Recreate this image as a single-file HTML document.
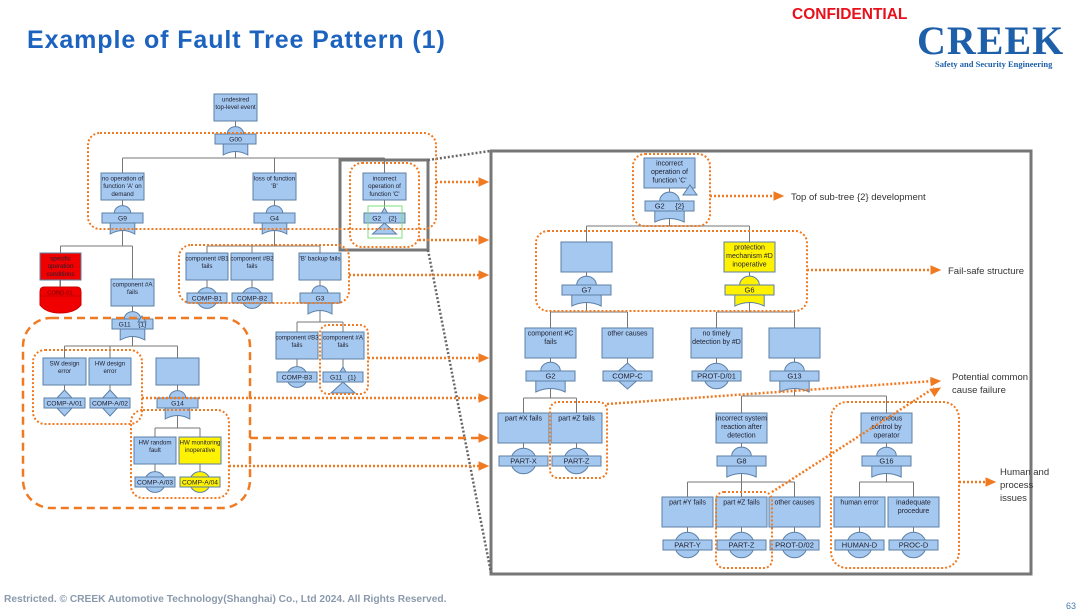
<!DOCTYPE html>
<html><head><meta charset="utf-8"><style>
body{margin:0;width:1080px;height:613px;overflow:hidden;background:#fff;font-family:"Liberation Sans",sans-serif;position:relative}
.t{position:absolute;white-space:nowrap}
</style></head><body>
<div class="t" style="left:27px;top:26px;font-size:25px;font-weight:bold;color:#1b63bf;letter-spacing:0.9px">Example of Fault Tree Pattern (1)</div>
<div class="t" style="left:792px;top:6px;font-size:15.5px;font-weight:bold;color:#e8101a">CONFIDENTIAL</div>
<div class="t" style="left:917px;top:17px;font-size:40px;font-weight:bold;color:#1d5fa8;font-family:'Liberation Serif',serif;letter-spacing:1px">CREEK</div>
<div class="t" style="left:935px;top:59px;font-size:8.5px;font-weight:bold;color:#1d5fa8;font-family:'Liberation Serif',serif">Safety and Security Engineering</div>
<div class="t" style="left:4px;top:594px;font-size:10.2px;font-weight:bold;color:#8a9aac">Restricted. © CREEK Automotive Technology(Shanghai) Co., Ltd 2024. All Rights Reserved.</div>
<div class="t" style="left:1066px;top:601px;font-size:9px;color:#4a7ab0">63</div>
<svg id="s" width="1080" height="613" style="position:absolute;left:0;top:0" xmlns="http://www.w3.org/2000/svg"></svg>
<script>
var o='';
var B='#a4c8ef',S='#5c7fa6',Y='#fff200',R='#f00000',OR='#f07a22';
function rect(x,y,w,h,f,st,sw){o+='<rect x="'+x+'" y="'+y+'" width="'+w+'" height="'+h+'" fill="'+f+'" stroke="'+(st||S)+'" stroke-width="'+(sw||1)+'"/>';}
function txt(x,y,s,fs,c,anc){o+='<text x="'+x+'" y="'+y+'" font-size="'+fs+'" fill="'+(c||'#223')+'" text-anchor="'+(anc||'middle')+'" font-family="Liberation Sans,sans-serif">'+s+'</text>';}
function line(x1,y1,x2,y2,c,w,d){o+='<line x1="'+x1+'" y1="'+y1+'" x2="'+x2+'" y2="'+y2+'" stroke="'+(c||'#777')+'" stroke-width="'+(w||1)+'"'+(d?' stroke-dasharray="'+d+'"':'')+'/>';}
function path(d,f,st){o+='<path d="'+d+'" fill="'+f+'" stroke="'+(st||S)+'" stroke-width="1"/>';}
var G={};
function node(id,x,y,w,h,lines,type,label,fill,fs){
 fill=fill||B;fs=fs||(w>48?7:6.2);
 var cx=x+w/2,by=y+h+13,bw=w-2,bx=x+1,bh=10;
 line(cx,y+h,cx,by,'#777');
 if(type=='g'){var r=bw*0.2;path('M'+(cx-r)+' '+by+' A'+r+' '+(r*0.9)+' 0 0 1 '+(cx+r)+' '+by+'Z',fill);
  var hw=bw*0.3;path('M'+(cx-hw)+' '+(by+bh)+' L'+(cx-hw)+' '+(by+bh+11)+' Q'+cx+' '+(by+bh+4)+' '+(cx+hw)+' '+(by+bh+11)+' L'+(cx+hw)+' '+(by+bh)+'Z',fill);
  G[id]=[cx,by+bh+8];}
 if(type=='b'){o+='<circle cx="'+cx+'" cy="'+(by+bh/2)+'" r="'+(bw*0.26)+'" fill="'+fill+'" stroke="'+S+'"/>';}
 if(type=='d'){var r2=bw*0.3;path('M'+cx+' '+(by-8)+' L'+(cx+r2)+' '+(by+5)+' L'+cx+' '+(by+bh+8)+' L'+(cx-r2)+' '+(by+5)+'Z',fill);}
 if(type=='t'){path('M'+cx+' '+(by-5)+' L'+(cx+3)+' '+by+' L'+(cx-3)+' '+by+'Z',fill);path('M'+cx+' '+(by+bh)+' L'+(cx+12)+' '+(by+bh+11)+' L'+(cx-12)+' '+(by+bh+11)+'Z',fill);}
 rect(x,y,w,h,fill);
 for(var i=0;i<lines.length;i++)txt(cx,y+7.5+i*(fs+1.5),lines[i],fs);
 if(type)rect(bx,by,bw,bh,fill);
 if(label)txt(cx,by+7.5,label,fs+0.5);
 G[id+'_top']=[cx,y];
}
function conn(p,kids,bus){var g=G[p];line(g[0],g[1],g[0],bus,'#777');var xs=kids.map(function(k){return G[k+'_top'][0]});xs.push(g[0]);
 line(Math.min.apply(0,xs),bus,Math.max.apply(0,xs),bus,'#777');kids.forEach(function(k){var t=G[k+'_top'];line(t[0],bus,t[0],t[1],'#777');});}
node('top',214,94,43,27,['undesired','top-level event'],'g','G00');
node('g9',101,173,43,27,['no operation of',"function 'A' on",'demand'],'g','G9');
node('g4',253,173,43,27,['loss of function',"'B'"],'g','G4');
node('c',363,173,43,27,['incorrect','operation of',"function 'C'"],'t','G2&#160;&#160;&#160;&#160;{2}');
o+='<rect x="368" y="206" width="34" height="32" fill="none" stroke="#7de07d" stroke-width="1"/>';
node('red',40,253,41,27,['specific','operation','conditions'],null,null,R);
path('M44 287 L77 287 Q81 287 81 292 L81 305 Q75 313 60 313 Q46 313 40 305 L40 292 Q40 287 44 287Z',R,'#c00');
line(40,296,81,296,'#c00');txt(60,294.5,'COND-01',5.8,'#600');line(60,280,60,287,'#777');
node('ga',111,279,43,27,['component #A','fails'],'g','G11&#160;&#160;&#160;&#160;{1}');
path('M142 316 L146 322 L138 322Z',B);
node('b1',186,253,42,27,['component #B1','fails'],'b','COMP-B1');
node('b2',231,253,42,27,['component #B2','fails'],'b','COMP-B2');
node('g3',299,253,42,27,["'B' backup fails"],'g','G3');
node('b3',276,332,42,27,['component #B3','fails'],'b','COMP-B3');
node('a2',322,332,42,27,['component #A','fails'],'t','G11&#160;&#160;&#160;{1}');
node('sw',43,358,43,27,['SW design','error'],'d','COMP-A/01');
node('hw',89,358,42,27,['HW design','error'],'d','COMP-A/02');
node('g14',156,358,43,27,[],'g','G14');
node('hr',134,437,42,27,['HW random','fault'],'b','COMP-A/03');
node('hm',179,437,42,27,['HW monitoring','inoperative'],'b','COMP-A/04',Y);
conn('top',['g9','g4','c'],158);conn('g9',['red','ga'],246);conn('g4',['b1','b2','g3'],246);
conn('g3',['b3','a2'],322);conn('ga',['sw','hw','g14'],346);conn('g14',['hr','hm'],428);
node('rc',644,158,51,30,['incorrect','operation of',"function 'C'"],'g','G2&#160;&#160;&#160;&#160;&#160;{2}');
path('M690 185 L697 195 L683 195Z',B);
node('g7',561,242,51,30,[],'g','G7');
node('g6',724,242,51,30,['protection','mechanism #D','inoperative'],'g','G6',Y);
node('rg2',525,328,51,30,['component #C','fails'],'g','G2');
node('oc',602,328,51,30,['other causes'],'d','COMP-C');
node('nt',691,328,51,30,['no timely','detection by #D'],'b','PROT-D/01');
node('g13',769,328,51,30,[],'g','G13');
node('px',498,413,51,30,['part #X fails'],'b','PART-X');
node('pz',551,413,51,30,['part #Z fails'],'b','PART-Z');
node('g8',716,413,51,30,['incorrect system','reaction after','detection'],'g','G8');
node('g16',861,413,51,30,['erroneous','control by','operator'],'g','G16');
node('py',662,497,51,30,['part #Y fails'],'b','PART-Y');
node('pz2',716,497,51,30,['part #Z fails'],'b','PART-Z');
node('ot2',769,497,51,30,['other causes'],'b','PROT-D/02');
node('he',834,497,51,30,['human error'],'b','HUMAN-D');
node('ip',888,497,51,30,['inadequate','procedure'],'b','PROC-D');
conn('rc',['g7','g6'],226);conn('g7',['rg2','oc'],312);conn('g6',['nt','g13'],312);
conn('rg2',['px','pz'],398);conn('g13',['g8','g16'],396);conn('g8',['py','pz2','ot2'],482);conn('g16',['he','ip'],482);
o+='<rect x="491" y="151" width="540" height="423" fill="none" stroke="#777" stroke-width="3"/>';
o+='<rect x="340" y="160" width="88" height="90" fill="none" stroke="#777" stroke-width="3"/>';
line(428,160,490,151,'#666',2.5,'2 2');line(428,250,491,573,'#666',2.5,'2 2');
function orr(x,y,w,h,dash,rx){o+='<rect x="'+x+'" y="'+y+'" width="'+w+'" height="'+h+'" rx="'+(rx||12)+'" fill="none" stroke="'+OR+'" stroke-width="'+(dash?2.5:2)+'" stroke-dasharray="'+(dash||'2 2')+'"/>';}
orr(88,133,348,96);orr(350,163,69,84);orr(179,245,170,58);orr(320,325,48,69,0,8);
orr(23,318,227,190,'8 5',28);orr(33,350,109,74);orr(131,410,98,88);
orr(633,154,77,72);orr(536,231,271,80);orr(550,402,57,76,0,8);orr(716,492,56,76,0,8);orr(831,402,128,166,0,16);
function arr(x1,y1,x2,y2,dash){line(x1,y1,x2-6,y2,OR,2.5,dash||'2 2');var a=Math.atan2(y2-y1,x2-x1),c=Math.cos(a),s=Math.sin(a);
 path('M'+x2+' '+y2+' L'+(x2-9*c+4*s)+' '+(y2-9*s-4*c)+' L'+(x2-9*c-4*s)+' '+(y2-9*s+4*c)+'Z',OR,OR);}
arr(436,182,488,182);arr(419,240,488,240);arr(349,275,488,275);arr(368,358,488,358);arr(142,398,488,398);
arr(250,438,488,438,'8 5');arr(229,466,488,466);
arr(710,196,783,196);arr(807,270,940,270);arr(607,404,940,381);arr(772,492,940,388);arr(959,482,995,482);
txt(791,200,'Top of sub-tree {2} development',9.5,'#333','start');
txt(948,274,'Fail-safe structure',9.5,'#333','start');
txt(952,380,'Potential common',9.5,'#333','start');txt(952,393,'cause failure',9.5,'#333','start');
txt(1000,475,'Human and',9.5,'#333','start');txt(1000,488,'process',9.5,'#333','start');txt(1000,501,'issues',9.5,'#333','start');
document.getElementById('s').innerHTML=o;
</script>
</body></html>
